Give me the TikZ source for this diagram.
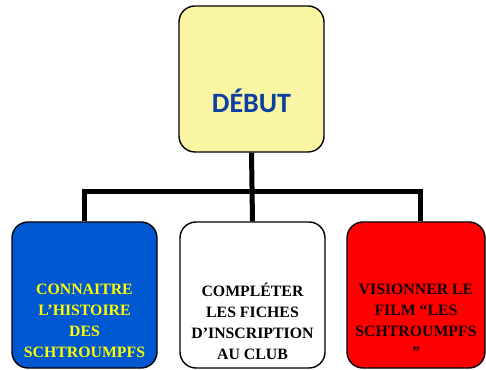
\documentclass[tikz,border=0pt]{standalone}
\usepackage{fontspec}
\setmainfont{Liberation Serif}
\newfontfamily\carl{Carlito}
\definecolor{boxyellow}{HTML}{FBF6A3}
\definecolor{boxblue}{HTML}{0057D2}
\definecolor{titleblue}{HTML}{0B3FA0}
\definecolor{txtyellow}{HTML}{FFFF00}
\definecolor{boxred}{HTML}{FF0000}
\begin{document}
\begin{tikzpicture}[x=1pt,y=1pt,
  box/.style={draw=black, line width=1.4pt, rounded corners=16pt, inner sep=0pt},
  conn/.style={draw=black, line width=5pt, line join=miter},
  lbl/.style={font=\fontsize{15.8}{21}\selectfont\bfseries, align=center, inner sep=0pt}]
\useasboundingbox (0,0) rectangle (486,369);
\node[box, fill=boxyellow, minimum width=145pt, minimum height=146pt] (top) at (251.5,290) {};
\node[box, fill=boxblue, minimum width=145pt, minimum height=146pt] (left) at (84.5,74) {};
\node[box, fill=white, minimum width=145pt, minimum height=146pt] (mid) at (252.5,74) {};
\node[box, fill=boxred, minimum width=138pt, minimum height=146pt] (right) at (416,74) {};
\coordinate (jl) at (84,177);
\coordinate (jr) at (420,177);
\draw[conn] (left.north) |- (jr) -- (jr |- right.north);
\draw[conn] (top.south) -- (mid.north);
\node[font=\carl\fontsize{28}{30}\selectfont\bfseries, text=titleblue, inner sep=0pt] (tdebut) at (251.5,268) {DÉBUT};
\node[lbl, text=txtyellow] (tleft) at (84.5,48) {CONNAITRE\\L’HISTOIRE\\DES\\SCHTROUMPFS};
\node[lbl, text=black] (tmid) at (252.5,48) {COMPLÉTER\\LES FICHES\\D’INSCRIPTION\\AU CLUB};
\node[lbl, text=black!92!red] (tright) at (416,48) {VISIONNER LE\\FILM “LES\\SCHTROUMPFS\\”};
\end{tikzpicture}
\end{document}
